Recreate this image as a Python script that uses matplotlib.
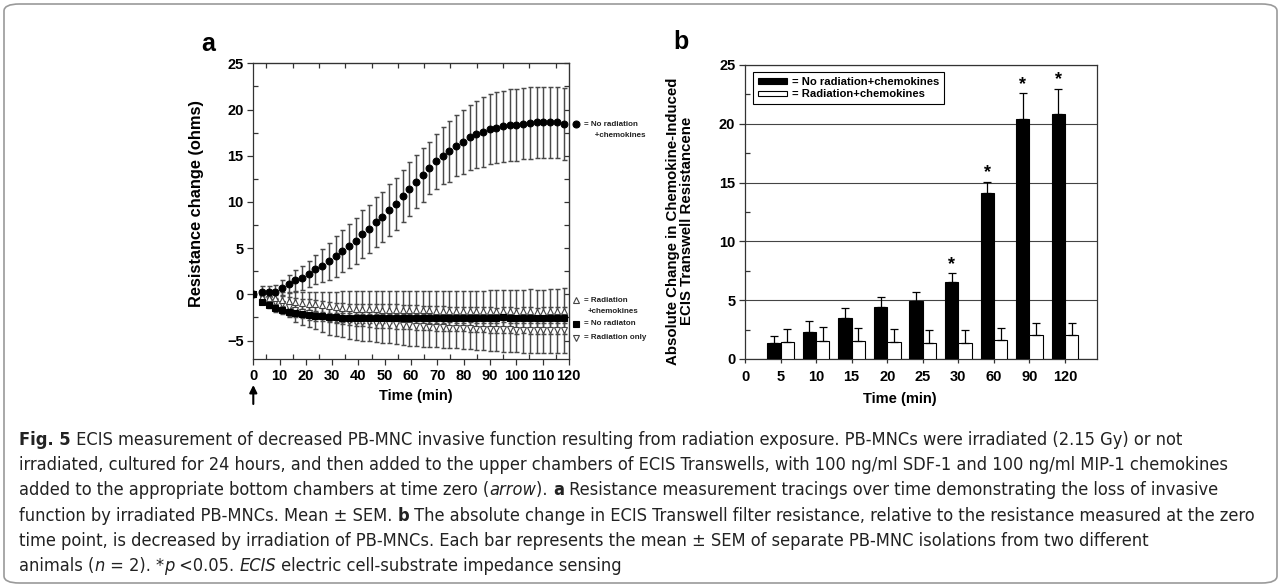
import numpy as np
import matplotlib
matplotlib.use("Agg")
import matplotlib.pyplot as plt
from matplotlib.patches import FancyBboxPatch, FancyArrowPatch
from matplotlib.lines import Line2D

# ---- panel a: resistance change (ohms) over time, mean and SEM ----
time_min = [0, 3.2, 5.8, 8.3, 10.9, 13.4, 16.0, 18.5, 21.1, 23.6, 26.2, 28.7, 31.3, 33.8,
            36.4, 38.9, 41.5, 44.0, 46.6, 49.1, 51.7, 54.2, 56.8, 59.3, 61.9, 64.4, 67.0,
            69.5, 72.1, 74.6, 77.2, 79.7, 82.3, 84.8, 87.4, 89.9, 92.5, 95.0, 97.6, 100.1,
            102.7, 105.2, 107.8, 110.3, 112.9, 115.4, 118.0]

norad_chemo = [0, 0.3, 0.3, 0.3, 0.7, 1.1, 1.5, 1.8, 2.2, 2.7, 3.1, 3.6, 4.1, 4.7, 5.2, 5.8,
               6.5, 7.1, 7.8, 8.4, 9.1, 9.8, 10.6, 11.4, 12.2, 12.9, 13.7, 14.4, 15.0, 15.5,
               16.1, 16.5, 17.0, 17.3, 17.6, 17.9, 18.05, 18.2, 18.3, 18.3, 18.45, 18.5, 18.6,
               18.6, 18.6, 18.6, 18.4]
norad_chemo_sem = [0, 0.6, 0.6, 0.7, 0.8, 1.0, 1.1, 1.3, 1.4, 1.6, 1.8, 2.0, 2.2, 2.3, 2.4,
                   2.5, 2.6, 2.6, 2.7, 2.7, 2.8, 2.8, 2.8, 2.9, 2.9, 2.9, 2.8, 3.0, 3.1, 3.3,
                   3.3, 3.5, 3.5, 3.6, 3.8, 3.8, 3.85, 3.85, 3.9, 3.9, 3.85, 3.9, 3.85, 3.85,
                   3.85, 3.85, 3.9]

rad_chemo = [0, -0.25, -0.45, -0.45, -0.6, -0.7, -0.8, -0.9, -1.0, -1.1, -1.2, -1.3, -1.4,
             -1.45, -1.5, -1.55, -1.55, -1.6, -1.6, -1.65, -1.65, -1.7, -1.7, -1.7, -1.75,
             -1.75, -1.75, -1.8, -1.8, -1.8, -1.8, -1.8, -1.85, -1.85, -1.85, -1.85, -1.85,
             -1.85, -1.85, -1.9, -1.85, -1.85, -1.9, -1.9, -1.85, -1.85, -1.8]
rad_chemo_sem = [0, 0.3, 0.4, 0.6, 0.8, 0.9, 1.1, 1.2, 1.3, 1.4, 1.5, 1.6, 1.7, 1.8, 1.85,
                 1.9, 1.9, 1.95, 2.0, 2.0, 2.0, 2.05, 2.05, 2.1, 2.1, 2.1, 2.1, 2.15, 2.15,
                 2.2, 2.2, 2.2, 2.2, 2.25, 2.25, 2.3, 2.3, 2.3, 2.35, 2.35, 2.35, 2.4, 2.4,
                 2.4, 2.45, 2.45, 2.45]

norad = [0, -0.8, -1.15, -1.5, -1.7, -1.9, -2.05, -2.1, -2.25, -2.35, -2.4, -2.5, -2.5,
         -2.55, -2.55, -2.6, -2.6, -2.6, -2.6, -2.6, -2.6, -2.6, -2.6, -2.6, -2.6, -2.6,
         -2.6, -2.6, -2.6, -2.55, -2.6, -2.6, -2.55, -2.6, -2.6, -2.6, -2.6, -2.5, -2.6,
         -2.6, -2.6, -2.6, -2.6, -2.6, -2.6, -2.6, -2.6]
norad_sem = [0, 0.3, 0.35, 0.4, 0.4, 0.45, 0.45, 0.5, 0.5, 0.5, 0.5, 0.5, 0.5, 0.5, 0.5,
             0.5, 0.5, 0.5, 0.5, 0.5, 0.5, 0.5, 0.5, 0.5, 0.5, 0.5, 0.5, 0.5, 0.5, 0.5,
             0.5, 0.5, 0.5, 0.5, 0.5, 0.5, 0.5, 0.5, 0.5, 0.5, 0.5, 0.5, 0.5, 0.5, 0.5,
             0.5, 0.5]

rad_only = [0, -0.3, -0.5, -0.8, -1.1, -1.4, -1.7, -1.9, -2.05, -2.2, -2.4, -2.6, -2.7,
            -2.8, -2.9, -2.95, -3.0, -3.05, -3.1, -3.15, -3.2, -3.25, -3.3, -3.35, -3.4,
            -3.45, -3.5, -3.5, -3.55, -3.6, -3.6, -3.65, -3.65, -3.7, -3.7, -3.75, -3.8,
            -3.8, -3.8, -3.85, -3.85, -3.85, -3.9, -3.9, -3.9, -3.9, -3.9]
rad_only_sem = [0, 0.3, 0.5, 0.7, 0.9, 1.1, 1.3, 1.4, 1.5, 1.6, 1.7, 1.75, 1.8, 1.85, 1.9,
                1.95, 2.0, 2.0, 2.05, 2.1, 2.1, 2.15, 2.15, 2.2, 2.2, 2.2, 2.2, 2.25, 2.25,
                2.25, 2.25, 2.25, 2.3, 2.3, 2.3, 2.35, 2.35, 2.4, 2.4, 2.4, 2.45, 2.45, 2.45,
                2.5, 2.5, 2.5, 2.5]

# ---- panel b: absolute change in transwell resistance ----
bar_labels = ["0", "5", "10", "15", "20", "25", "30", "60", "90", "120"]
bar_norad = [np.nan, 1.4, 2.3, 3.45, 4.45, 4.95, 6.55, 14.1, 20.4, 20.8]
bar_norad_sem = [np.nan, 0.56, 0.9, 0.9, 0.85, 0.77, 0.74, 0.95, 2.2, 2.2]
bar_rad = [np.nan, 1.42, 1.55, 1.5, 1.45, 1.38, 1.38, 1.6, 2.0, 2.0]
bar_rad_sem = [np.nan, 1.13, 1.2, 1.15, 1.12, 1.1, 1.1, 1.05, 1.05, 1.1]
bar_signif = [False, False, False, False, False, False, True, True, True, True]

caption_lines = [
    [("Fig. 5", "bold", "normal"),
     (" ECIS measurement of decreased PB-MNC invasive function resulting from radiation "
      "exposure. PB-MNCs were irradiated (2.15 Gy) or not", "normal", "normal")],
    [("irradiated, cultured for 24 hours, and then added to the upper chambers of ECIS "
      "Transwells, with 100 ng/ml SDF-1 and 100 ng/ml MIP-1 chemokines", "normal", "normal")],
    [("added to the appropriate bottom chambers at time zero (", "normal", "normal"),
     ("arrow", "normal", "italic"),
     ("). ", "normal", "normal"),
     ("a", "bold", "normal"),
     (" Resistance measurement tracings over time demonstrating the loss of invasive",
      "normal", "normal")],
    [("function by irradiated PB-MNCs. Mean \u00b1 SEM. ", "normal", "normal"),
     ("b", "bold", "normal"),
     (" The absolute change in ECIS Transwell filter resistance, relative to the resistance "
      "measured at the zero", "normal", "normal")],
    [("time point, is decreased by irradiation of PB-MNCs. Each bar represents the mean "
      "\u00b1 SEM of separate PB-MNC isolations from two different", "normal", "normal")],
    [("animals (", "normal", "normal"),
     ("n", "normal", "italic"),
     (" = 2). *", "normal", "normal"),
     ("p", "normal", "italic"),
     (" <0.05. ", "normal", "normal"),
     ("ECIS", "normal", "italic"),
     (" electric cell-substrate impedance sensing", "normal", "normal")],
]
# right end (px) of each full caption line in the reference
caption_line_ends = [1242, 1260, 1229, 1262, 1223]

W, H = 1281, 586
FONT = "Liberation Sans"
INK = "#222222"
plt.rcParams["font.family"] = [FONT, "DejaVu Sans"]

fig = plt.figure(figsize=(W / 100, H / 100), dpi=100)


def fx(px):
    return px / W


def fy(py):
    return 1 - py / H


# outer rounded frame
fig.patches.append(FancyBboxPatch((fx(4), fy(583)), fx(1273), 579 / H,
                                  boxstyle="round,pad=0,rounding_size=0.012",
                                  transform=fig.transFigure, fill=False,
                                  edgecolor="#9a9a9a", linewidth=1.2))

# ================= panel a =================
ax = fig.add_axes([fx(253.3), fy(359), fx(315.5), 295.7 / H])
series = [
    (rad_only, rad_only_sem, "v", "white", "#444444", 4.3),
    (rad_chemo, rad_chemo_sem, "^", "white", "#444444", 4.3),
    (norad, norad_sem, "s", "black", "black", 4.0),
    (norad_chemo, norad_chemo_sem, "o", "black", "black", 4.9),
]
for vals, sem, mk, fc, ec, ms in series:
    ax.errorbar(time_min, vals, yerr=sem, fmt="none", ecolor="#4a4a4a",
                elinewidth=1.05, capsize=1.8, capthick=1.05, zorder=2)
for i, (vals, sem, mk, fc, ec, ms) in enumerate(series):
    ax.plot(time_min, vals, linestyle="none", marker=mk, ms=ms, mfc=fc, mec=ec,
            mew=0.8, zorder=3 + i)

ax.set_xlim(0, 120)
ax.set_ylim(-7, 25)
ax.set_xticks(np.arange(0, 121, 10))
ax.set_xticks(np.arange(0, 121, 5), minor=True)
ax.set_yticks(np.arange(-5, 26, 5))
ax.set_yticks(np.arange(-5, 25.1, 2.5), minor=True)
ax.tick_params(which="major", direction="out", length=4, width=0.9, color="#333333",
               labelsize=10.5, pad=3)
ax.tick_params(which="minor", direction="in", length=3.5, width=0.9, color="#333333")
for lab in ax.get_xticklabels() + ax.get_yticklabels():
    lab.set_fontweight("bold")
for sp in ax.spines.values():
    sp.set_linewidth(0.9)
    sp.set_color("#333333")
top = ax.secondary_xaxis("top")
top.set_xticks(np.arange(5, 120, 10))
top.tick_params(direction="in", length=3.5, width=0.9, labeltop=False, color="#333333")
right = ax.secondary_yaxis("right")
right.set_yticks(np.arange(-5, 25.1, 2.5))
right.tick_params(direction="in", length=3.5, width=0.9, labelright=False, color="#333333")

ax.set_ylabel("Resistance change (ohms)", fontsize=11.8, fontweight="bold")
ax.yaxis.set_label_coords(-0.155, 0.525)
fig.text(fx(416), fy(396), "Time (min)", ha="center", va="center", fontsize=10.5,
         fontweight="bold")
fig.text(fx(208), fy(44), "a", ha="center", va="center", fontsize=18, fontweight="bold")

# start arrow (time zero)
fig.add_artist(FancyArrowPatch(
    (fx(253.3), fy(404)), (fx(253.3), fy(385)), transform=fig.transFigure,
    arrowstyle="-|>", mutation_scale=11, shrinkA=0, shrinkB=0, color="black",
    linewidth=1.5))

# panel a inline legend
legend_a = [
    ("o", "black", "black", 124, ["= No radiation", "   +chemokines"]),
    ("^", "white", "#444444", 300, ["= Radiation", "+chemokines"]),
    ("s", "black", "black", 323.5, ["= No radiaton"]),
    ("v", "white", "#444444", 337.5, ["= Radiation only"]),
]
for mk, fc, ec, py, texts in legend_a:
    fig.add_artist(Line2D([fx(576)], [fy(py)], marker=mk, ms=5, mfc=fc, mec=ec, mew=0.8,
                          linestyle="none", transform=fig.transFigure))
    for j, t in enumerate(texts):
        xoff = 584 if j == 0 else 588
        fig.text(fx(xoff), fy(py + 11.5 * j), t, ha="left", va="center", fontsize=5.8,
                 fontweight="bold", color="#222222")

# ================= panel b =================
bx = fig.add_axes([fx(745), fy(359), fx(352), 294 / H])
pos = np.arange(len(bar_labels))
bw = 0.375
b1 = bx.bar(pos - bw / 2, bar_norad, width=bw, color="black", edgecolor="black",
            linewidth=0.8, zorder=3, label="= No radiation+chemokines")
b2 = bx.bar(pos + bw / 2, bar_rad, width=bw, color="white", edgecolor="black",
            linewidth=0.8, zorder=3, label="= Radiation+chemokines")
bx.errorbar(pos - bw / 2, bar_norad, yerr=[np.zeros(len(pos)), bar_norad_sem], fmt="none",
            ecolor="black", elinewidth=0.9, capsize=2.6, capthick=0.9, zorder=4)
bx.errorbar(pos + bw / 2, bar_rad, yerr=[np.zeros(len(pos)), bar_rad_sem], fmt="none",
            ecolor="black", elinewidth=0.9, capsize=2.6, capthick=0.9, zorder=4)
for p, v, s, sig in zip(pos, bar_norad, bar_norad_sem, bar_signif):
    if sig:
        bx.text(p - bw / 2, v + s + 0.05, "*", ha="center", va="bottom", fontsize=13,
                fontweight="bold")

bx.set_xlim(0, 9.9)
bx.set_ylim(0, 25)
bx.set_xticks(pos)
bx.set_xticklabels(bar_labels)
bx.set_yticks(np.arange(0, 26, 5))
bx.set_yticks(np.arange(0, 25.1, 2.5), minor=True)
bx.yaxis.grid(True, which="major", color="#444444", linewidth=0.8)
bx.set_axisbelow(True)
bx.tick_params(axis="y", which="major", direction="out", length=4, width=0.9,
               color="#333333", labelsize=10.5, pad=3)
bx.tick_params(axis="y", which="minor", direction="in", length=3.5, width=0.9,
               color="#333333")
bx.tick_params(axis="x", which="major", direction="out", length=3, width=0.9,
               color="#333333", labelsize=10.5, pad=5)
for lab in bx.get_xticklabels() + bx.get_yticklabels():
    lab.set_fontweight("bold")
for sp in bx.spines.values():
    sp.set_linewidth(0.9)
    sp.set_color("#333333")

leg = bx.legend(handles=[b1, b2], loc="upper left", bbox_to_anchor=(0.023, 0.976),
                borderaxespad=0, fancybox=False, edgecolor="black", framealpha=1,
                prop={"weight": "bold", "size": 8.1}, handlelength=2.6, handleheight=0.4,
                handletextpad=0.4, labelspacing=0.2, borderpad=0.45)
leg.get_frame().set_linewidth(0.8)
leg.set_zorder(6)

fig.text(fx(680), fy(221), "Absolute Change in Chemokine-Induced\nECIS Transwell Resistancene",
         rotation=90, ha="center", va="center", multialignment="center", fontsize=10.8,
         fontweight="bold", linespacing=1.0)
fig.text(fx(900), fy(399), "Time (min)", ha="center", va="center", fontsize=10.5,
         fontweight="bold")
fig.text(fx(681), fy(42), "b", ha="center", va="center", fontsize=18, fontweight="bold")

# ================= caption =================
renderer = fig.canvas.get_renderer()
cap_font = dict(family=["DejaVu Sans"], fontstretch="condensed")


def run_width(s, size, weight, style):
    t1 = fig.text(0, 0, "|" + s + "|", fontsize=size, fontweight=weight, fontstyle=style,
                  **cap_font)
    t2 = fig.text(0, 0, "||", fontsize=size, fontweight=weight, fontstyle=style, **cap_font)
    w = t1.get_window_extent(renderer).width - t2.get_window_extent(renderer).width
    t1.remove()
    t2.remove()
    return w


# one font size for all lines, the largest that keeps each line inside its reference width
cap_size = min(10 * (end - 19) / sum(run_width(s, 10, wt, st) for s, wt, st in line)
               for line, end in zip(caption_lines, caption_line_ends))

for k, line in enumerate(caption_lines):
    x = 19
    y = 440 + 25.2 * k
    for s, wt, st in line:
        fig.text(fx(x), fy(y), s, ha="left", va="center", fontsize=cap_size,
                 fontweight=wt, fontstyle=st, color=INK, **cap_font)
        x += run_width(s, cap_size, wt, st)

fig.savefig("out.png", dpi=100)
